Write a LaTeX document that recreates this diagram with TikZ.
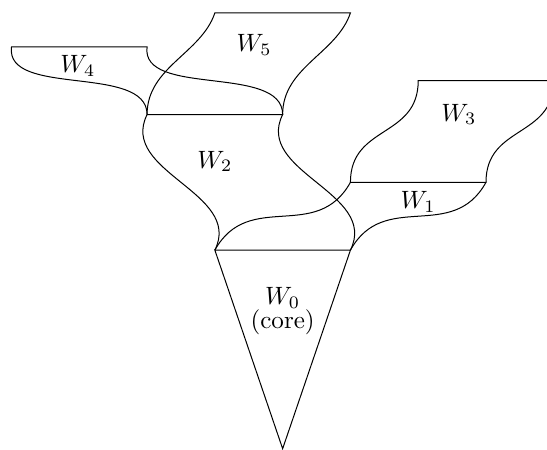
\documentclass[tikz,border=0pt]{standalone}
\begin{document}
\begin{tikzpicture}[x=0.95cm,y=0.95cm,every node/.style={inner sep=1pt}]
\useasboundingbox (-4.17,-2.94) rectangle (3.9,3.69);
\clip (-4.17,-2.94) rectangle (3.9,3.69);

% corners
\coordinate (a) at (-1,0);
\coordinate (b) at (1,0);
\coordinate (apex) at (0,-2.93);
\coordinate (c) at (-2,2);
\coordinate (d) at (0,2);
\coordinate (e) at (1,1);
\coordinate (f) at (3,1);
\coordinate (g) at (2,2.5);
\coordinate (h) at (4,2.5);
\coordinate (i) at (-1,3.5);
\coordinate (j) at (1,3.5);
\coordinate (k) at (-4,3);
\coordinate (l) at (-2,3);

% core
\draw (a) -- (b) -- (apex) -- cycle;

% W2
\draw (a) .. controls +(0.42,0.85) and +(-0.42,-0.85) .. (c) -- (d)
          .. controls +(-0.42,-0.85) and +(0.42,0.85) .. (b);
% W1
\draw (a) .. controls +(0.5,0.9) and +(-0.5,-0.9) .. (e) -- (f)
          .. controls +(-0.5,-0.9) and +(0.5,0.9) .. (b);
% W3
\draw (e) .. controls +(0,0.85) and +(0,-0.85) .. (g) -- (h)
          .. controls +(0,-0.85) and +(0,0.85) .. (f);
% W5
\draw (c) .. controls +(0,0.7) and +(-0.2,-0.6) .. (i) -- (j)
          .. controls +(-0.2,-0.6) and +(0,0.7) .. (d);
% W4
\draw (c) .. controls +(0,0.75) and +(-0.1,-0.75) .. (k) -- (l)
          .. controls +(-0.1,-0.75) and +(0,0.75) .. (d);

\node[align=center] (w0) at (0,-0.9) {$W_0$\\[-2.6pt](core)};
\node (w1) at (2.0,0.71) {$W_1$};
\node (w2) at (-1.0,1.31) {$W_2$};
\node (w3) at (2.6,2.0) {$W_3$};
\node (w4) at (-3.02,2.72) {$W_4$};
\node (w5) at (-0.42,3.03) {$W_5$};
\end{tikzpicture}
\end{document}
